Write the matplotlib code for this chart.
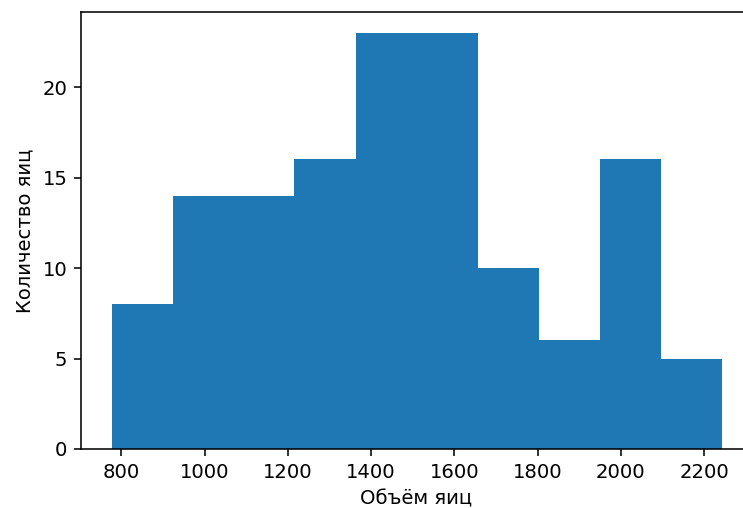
import matplotlib
matplotlib.use("Agg")
import matplotlib.pyplot as plt
import numpy as np

bin_edges = [776, 922.6, 1069.2, 1215.8, 1362.4, 1509, 1655.6, 1802.2, 1948.8, 2095.4, 2242]
counts = [8, 14, 14, 16, 23, 23, 10, 6, 16, 5]
xlabel = "Объём яиц"
ylabel = "Количество яиц"

dpi = 141
fig = plt.figure(figsize=(743 / dpi, 508 / dpi), dpi=dpi)
ax = fig.add_axes([81 / 743, 59 / 508, 671 / 743, 437 / 508])
ax.hist(bin_edges[:-1], bins=bin_edges, weights=counts, color="#1f77b4")
ax.set_xticks([800, 1000, 1200, 1400, 1600, 1800, 2000, 2200])
ax.set_yticks([0, 5, 10, 15, 20])
ax.set_xlabel(xlabel)
ax.set_ylabel(ylabel)
ax.spines["right"].set_visible(False)
fig.savefig("out.png", dpi=dpi)
